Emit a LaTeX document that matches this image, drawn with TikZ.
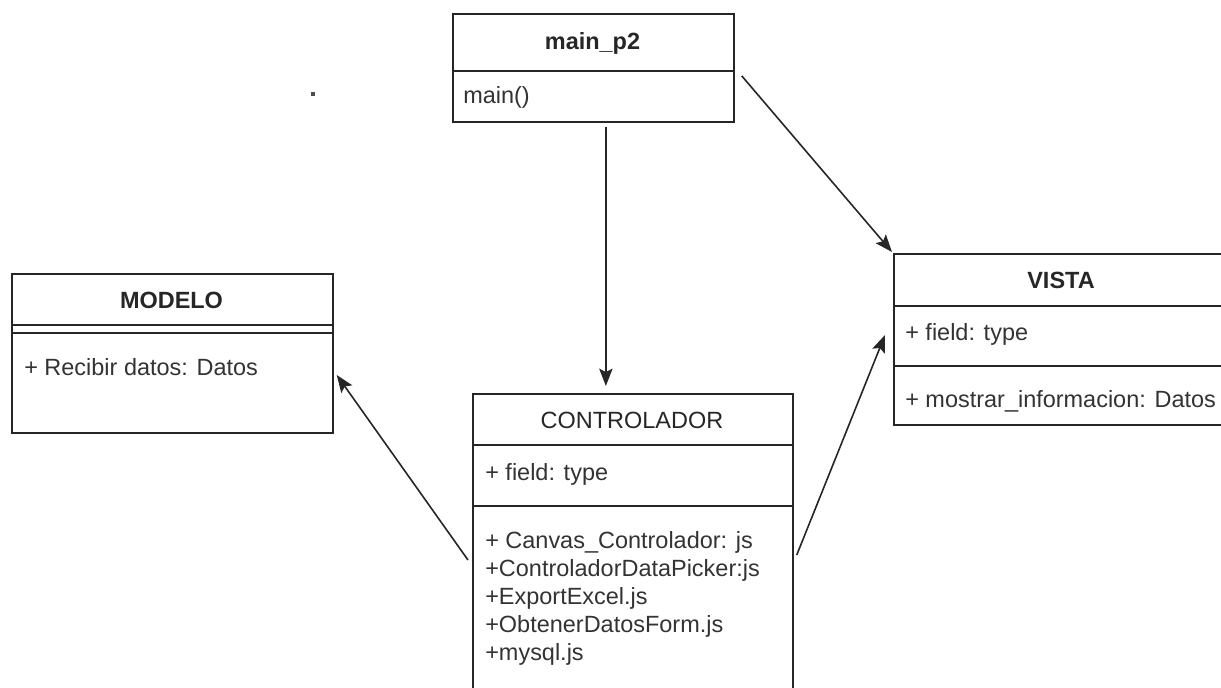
\documentclass[tikz,border=0pt]{standalone}
\usepackage{fontspec}
\setmainfont{Liberation Sans}
\usetikzlibrary{arrows.meta,calc}
\tikzset{
  umlbox/.style={draw=black!85, line width=1.3pt, inner sep=0pt, anchor=north west},
  title/.style={anchor=base, text=black!85, font=\fontsize{17.6}{20}\selectfont\bfseries},
  ctitle/.style={anchor=base, text=black!85, font=\fontsize{17.6}{20}\selectfont},
  member/.style={anchor=base west, inner sep=0pt, text=black!80, font=\fontsize{17.6}{20}\selectfont},
  sep/.style={draw=black!85, line width=1.3pt},
  uses/.style={draw=black!85, line width=1.2pt, -{Stealth[length=13pt,width=10pt,inset=2.5pt]}}
}

\begin{document}
\begin{tikzpicture}[x=0.75pt, y=-0.75pt]
\clip (0,0) rectangle (1221,688);
% main_p2
\node [umlbox, minimum width=210.75pt, minimum height=81pt] (main) at (452,13) {};
\draw [sep] ($(main.north west)+(0,58)$) -- ($(main.north east)+(0,58)$);
\node [title] (maintitle) at (592.5,50) {main\_p2};
\node [member] (mainop) at (463,104) {main()};
\node [rectangle, fill=black!70, inner sep=0pt, minimum size=2.5pt] (dot) at (313,94) {};
% MODELO
\node [umlbox, minimum width=240.75pt, minimum height=119.25pt] (modelo) at (11,273) {};
\draw [sep] ($(modelo.north west)+(0,52)$) -- ($(modelo.north east)+(0,52)$);
\draw [sep] ($(modelo.north west)+(0,60)$) -- ($(modelo.north east)+(0,60)$);
\node [title] (modelotitle) at (171.5,308) {MODELO};
\node [member] (modeloop) at (24,375) {+ Recibir datos: Datos};
% CONTROLADOR
\node [umlbox, minimum width=240pt, minimum height=245pt] (ctrl) at (472,393) {};
\draw [sep] ($(ctrl.north west)+(0,52)$) -- ($(ctrl.north east)+(0,52)$);
\draw [sep] ($(ctrl.north west)+(0,113)$) -- ($(ctrl.north east)+(0,113)$);
\node [ctitle] (ctrltitle) at (632,428) {CONTROLADOR};
\node [member] (ctrlfield) at (485,480) {+ field: type};
\node [member] (ctrlop1) at (485,548) {+ Canvas\_Controlador: js};
\node [member] (ctrlop2) at (485,576) {+ControladorDataPicker:js};
\node [member] (ctrlop3) at (485,604) {+ExportExcel.js};
\node [member] (ctrlop4) at (485,632) {+ObtenerDatosForm.js};
\node [member] (ctrlop5) at (485,660) {+mysql.js};
% VISTA
\node [umlbox, minimum width=252pt, minimum height=128.25pt] (vista) at (893,253) {};
\draw [sep] ($(vista.north west)+(0,53)$) -- ($(vista.north east)+(0,53)$);
\draw [sep] ($(vista.north west)+(0,113)$) -- ($(vista.north east)+(0,113)$);
\node [title] (vistatitle) at (1061,288) {VISTA};
\node [member] (vistafield) at (905,340) {+ field: type};
\node [member] (vistaop) at (905,407) {+ mostrar\_informacion: Datos};
% arrows
\draw [uses] ($(main.south)+(12.5,4)$) -- ($(main.south |- ctrl.north)+(12.5,-7)$);
\draw [uses] ($(main.east)+(7,8)$) -- ($(vista.north west)+(-1,-1)$);
\draw [uses] ($(ctrl.north west)+(-4,167)$) -- ($(modelo.north east)+(3,102)$);
\draw [uses] ($(ctrl.north east)+(3,162)$) -- ($(vista.north west)+(-8,82)$);
\end{tikzpicture}
\end{document}
